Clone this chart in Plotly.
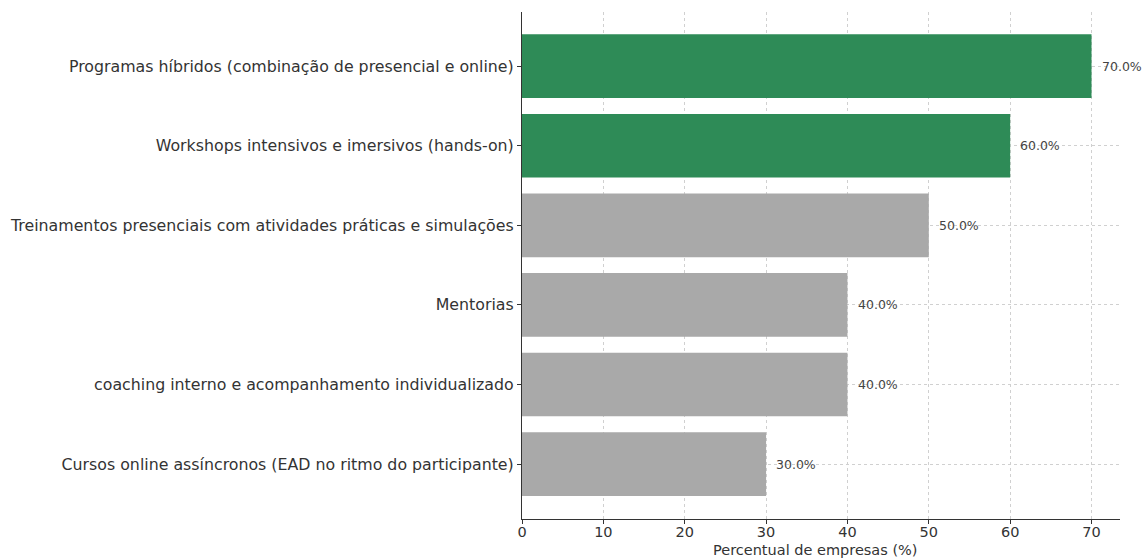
import plotly.graph_objects as go

categories = [
    "Cursos online assíncronos (EAD no ritmo do participante)",
    "coaching interno e acompanhamento individualizado",
    "Mentorias",
    "Treinamentos presenciais com atividades práticas e simulações",
    "Workshops intensivos e imersivos (hands-on)",
    "Programas híbridos (combinação de presencial e online)",
]
values = [30, 40, 40, 50, 60, 70]
colors = ["#a9a9a9", "#a9a9a9", "#a9a9a9", "#a9a9a9", "#2e8b57", "#2e8b57"]
x_ticks = [0, 10, 20, 30, 40, 50, 60, 70]
x_title = "Percentual de empresas (%)"

fig = go.Figure()
fig.add_trace(go.Bar(
    y=list(range(len(categories))), x=values, orientation="h",
    marker=dict(color=colors, line=dict(width=0)), width=0.8,
    hoverinfo="skip",
))
for i, v in enumerate(values):
    fig.add_annotation(x=v + 1, y=i, text=f"{v:.1f}%", showarrow=False,
                       xanchor="left", yanchor="middle",
                       font=dict(size=12.5, color="#444444", family="DejaVu Sans"))

fig.add_annotation(x=0.49, y=0, xref="paper", yref="paper", yshift=-31,
                   text=x_title, showarrow=False, xanchor="center", yanchor="middle",
                   font=dict(size=14.5, color="#333333", family="DejaVu Sans"))

fig.update_layout(
    width=1145, height=558,
    margin=dict(l=522, r=25, t=12, b=39),
    plot_bgcolor="white", paper_bgcolor="white",
    showlegend=False,
    font=dict(family="DejaVu Sans", size=15, color="#333333"),
    xaxis=dict(range=[0, 73.5], tickvals=x_ticks, showgrid=True,
               gridcolor="#d0d0d0", griddash="dot", gridwidth=1,
               showline=True, linecolor="#333333", linewidth=1.2,
               ticks="outside", ticklen=4, tickcolor="#333333",
               ticklabelstandoff=-5,
               tickfont=dict(size=14.5), zeroline=False, automargin=False),
    yaxis=dict(range=[-0.69, 5.68], tickvals=list(range(len(categories))),
               ticktext=categories, showgrid=True, gridcolor="#d0d0d0",
               griddash="dot", gridwidth=1, automargin=False,
               showline=True, linecolor="#333333", linewidth=1.2,
               ticks="outside", ticklen=4, tickcolor="#333333",
               tickfont=dict(size=15.8), zeroline=False),
)
fig.write_html("out.html")
